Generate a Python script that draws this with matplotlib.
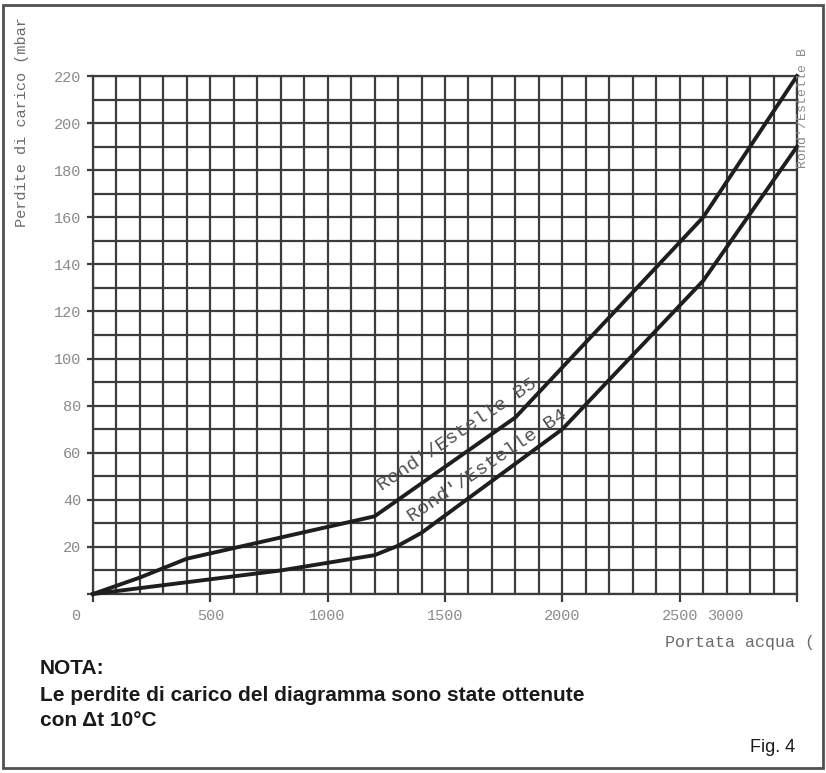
import numpy as np
import matplotlib
matplotlib.use("Agg")
import matplotlib.pyplot as plt
from matplotlib.patches import Rectangle
from matplotlib.transforms import ScaledTranslation

# values
flow_b5 = [0, 200, 400, 800, 1200, 1800, 2600, 3000]
loss_b5 = [0, 7, 15, 24, 33, 75, 160, 220]
flow_b4 = [0, 200, 400, 800, 1200, 1300, 1400, 2000, 2600, 3000]
loss_b4 = [0, 2.5, 5, 10, 16.5, 20.5, 26, 70, 133, 190]

x_ticks = [0, 500, 1000, 1500, 2000, 2500, 3000]
x_labels = ["0", "500", "1000", "1500", "2000", "2500", ""]
y_ticks = list(range(0, 221, 20))
y_labels = [""] + [str(v) for v in y_ticks[1:]]

mono = "Liberation Mono"
note_font = ["Liberation Sans Narrow", "Liberation Sans", "DejaVu Sans"]
grid_col = "#3c3c3c"
label_col = "#8a8a8a"


def draw_chart(ax):
    ax.set_xlim(0, 3000)
    ax.set_ylim(0, 220)
    ax.set_xticks(x_ticks)
    ax.set_xticklabels(x_labels)
    ax.set_yticks(y_ticks)
    ax.set_yticklabels(y_labels)
    ax.set_xticks(np.arange(0, 3001, 100), minor=True)
    ax.set_yticks(np.arange(0, 221, 10), minor=True)
    ax.grid(which="both", color=grid_col, lw=1.6)
    ax.tick_params(which="minor", length=0)
    ax.tick_params(axis="x", which="major", length=6, width=1.6, color=grid_col,
                   pad=5, labelsize=11, labelcolor=label_col)
    ax.tick_params(axis="y", which="major", length=4.5, width=1.6, color=grid_col,
                   pad=4, labelsize=11, labelcolor=label_col)
    for lab in ax.get_xticklabels() + ax.get_yticklabels():
        lab.set_fontfamily(mono)
    for sp in ax.spines.values():
        sp.set_color(grid_col)
        sp.set_linewidth(1.6)
    ax.set_axisbelow(True)

    # the "0" label sits left of the origin in the original
    lab0 = ax.get_xticklabels()[0]
    lab0.set_transform(lab0.get_transform() + ScaledTranslation(-0.17, 0, ax.figure.dpi_scale_trans))

    ax.plot(flow_b5, loss_b5, color="#1e1e1e", lw=2.8, clip_on=False, zorder=3)
    ax.plot(flow_b4, loss_b4, color="#1e1e1e", lw=2.8, clip_on=False, zorder=3)

    ax.text(1555, 67.5, "Rond'/Estelle B5", rotation=34, rotation_mode="anchor",
            ha="center", va="center", fontfamily=mono, fontsize=14, color="#505050")
    ax.text(1679, 54.4, "Rond'/Estelle B4", rotation=34, rotation_mode="anchor",
            ha="center", va="center", fontfamily=mono, fontsize=14, color="#505050")

    # odd extra tick text from the scanned original, next to 2500
    ax.text(2693, -6.5, "3000", ha="center", va="top", fontfamily=mono,
            fontsize=11, color=label_col)


def main():
    fig = plt.figure(figsize=(8.26, 7.73), dpi=100)
    fig.patch.set_facecolor("white")
    ax = fig.add_axes([93 / 826, 1 - 594 / 773, 704 / 826, 518 / 773])
    draw_chart(ax)

    # outer frame
    fig.add_artist(Rectangle((3 / 826, 5 / 773), 820 / 826, 763 / 773, transform=fig.transFigure,
                             fill=False, ec="#505050", lw=2))

    fig.text(22 / 826, 1 - 122 / 773, "Perdite di carico (mbar", rotation=90, ha="center",
             va="center", fontfamily=mono, fontsize=11, color="#6a6a6a")
    fig.text(803 / 826, 1 - 108 / 773, "Rond'/Estelle B", rotation=90, ha="center",
             va="center", fontfamily=mono, fontsize=9.5, color=label_col)
    fig.text(665 / 826, 1 - 643 / 773, "Portata acqua (", ha="left", va="center",
             fontfamily=mono, fontsize=12, color="#6a6a6a")

    fig.text(40 / 826, 1 - 674 / 773, "NOTA:", ha="left", va="baseline",
             fontfamily=note_font, fontweight="bold", fontsize=15, color="#1a1a1a")
    fig.text(40 / 826, 1 - 701 / 773, "Le perdite di carico del diagramma sono state ottenute",
             ha="left", va="baseline", fontfamily=note_font, fontweight="bold", fontsize=15,
             color="#1a1a1a")
    fig.text(40 / 826, 1 - 726 / 773, "con \u0394t 10\u00b0C", ha="left", va="baseline",
             fontfamily=note_font, fontweight="bold", fontsize=15, color="#1a1a1a")
    fig.text(795 / 826, 1 - 752 / 773, "Fig. 4", ha="right", va="baseline",
             fontfamily=note_font, fontsize=13, color="#1a1a1a")

    fig.savefig("out.png", dpi=100)


if __name__ == '__main__':
    main()
